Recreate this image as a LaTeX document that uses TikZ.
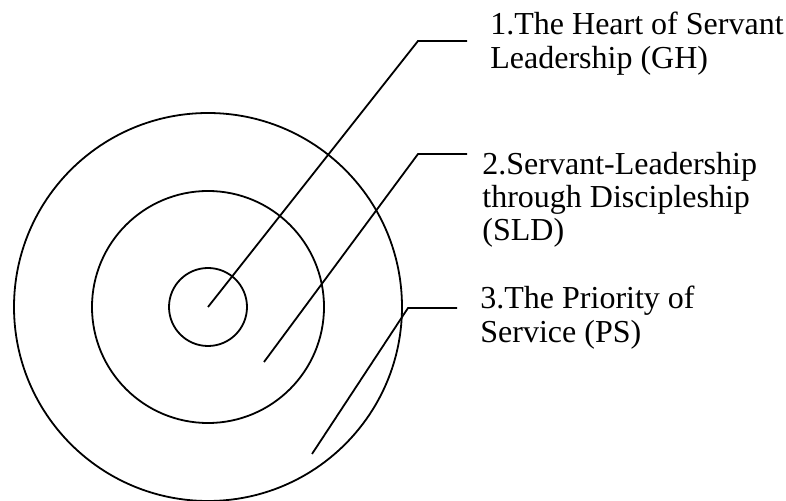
\documentclass[tikz,border=0pt]{standalone}
\usepackage{fontspec}
\setmainfont{Liberation Serif}
\usetikzlibrary{positioning}

\begin{document}
\begin{tikzpicture}[
  x=0.5pt, y=-0.5pt,
  ring/.style={draw, line width=0.9pt},
  lead/.style={draw, line width=0.9pt},
  lbl/.style={anchor=north west, inner sep=0pt, align=left, font=\fontsize{16}{16.6}\selectfont},
]
\useasboundingbox (0,0) rectangle (786,501);
% the three rings
\coordinate (c) at (208,307);
\draw[ring] (c) circle[radius=39];
\draw[ring] (c) circle[radius=116];
\draw[ring] (c) circle[radius=194];
% labels
\node[lbl] (gh) at (490,12) {1.The Heart of Servant\\Leadership (GH)};
\node[lbl] (sld) at (482,152) {2.Servant-Leadership\\through Discipleship\\(SLD)};
\node[lbl] (ps) at (480,286) {3.The Priority of\\Service (PS)};
% leader lines
\coordinate (gh tip) at (208,307);
\coordinate (gh bend) at (418,41);
\coordinate (gh end) at (467,41);
\coordinate (sld tip) at (264,362);
\coordinate (sld bend) at (418,154);
\coordinate (sld end) at (467,154);
\coordinate (ps tip) at (312,454);
\coordinate (ps bend) at (408,308);
\coordinate (ps end) at (457,308);
\draw[lead] (gh tip) -- (gh bend) -- (gh end);
\draw[lead] (sld tip) -- (sld bend) -- (sld end);
\draw[lead] (ps tip) -- (ps bend) -- (ps end);
\end{tikzpicture}
\end{document}
